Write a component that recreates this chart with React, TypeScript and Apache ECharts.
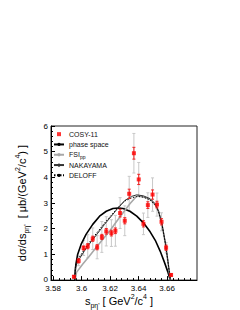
import React, { useEffect, useRef } from "react";
import * as echarts from "echarts";

const FONT = "'Liberation Sans', Arial, Helvetica, sans-serif";

// Axis ticks
const xTicks = [3.58, 3.6, 3.62, 3.64, 3.66];
const xMinorTicks = [3.584, 3.588, 3.592, 3.596, 3.604, 3.608, 3.612, 3.616, 3.624, 3.628, 3.632, 3.636, 3.644, 3.648, 3.652, 3.656, 3.664, 3.668, 3.672, 3.676];
const yTicks = [0, 1, 2, 3, 4, 5, 6];

// COSY-11 data points
const cosyX = [3.5946, 3.5979, 3.6014, 3.6043, 3.6078, 3.6109, 3.6142, 3.6173, 3.6209, 3.6237, 3.627, 3.6303, 3.6334, 3.6367, 3.6401, 3.6434, 3.6465, 3.6498, 3.6529, 3.6561, 3.6593, 3.6628];
const cosyY = [0.13, 0.75, 1.25, 1.32, 1.61, 1.28, 1.68, 1.9, 1.83, 1.92, 2.61, 2.31, 3.36, 4.94, 3.92, 2.19, 2.92, 3.33, 2.94, 2.27, 1.26, 0.2];
const cosyStat = [0.04, 0.08, 0.08, 0.1, 0.1, 0.1, 0.1, 0.11, 0.11, 0.11, 0.15, 0.12, 0.18, 0.23, 0.2, 0.12, 0.13, 0.18, 0.13, 0.12, 0.1, 0.04];
const cosySys = [0.06, 0.19, 0.29, 0.45, 0.42, 0.45, 0.6, 0.57, 0.52, 0.6, 0.6, 0.58, 0.68, 0.77, 0.66, 0.42, 0.48, 0.65, 0.45, 0.35, 0.2, 0.06];

// phase space
const psX = [3.5953, 3.5955, 3.596, 3.5972, 3.5996, 3.6031, 3.6078, 3.6126, 3.6173, 3.622, 3.6256, 3.6291, 3.6339, 3.6387, 3.6434, 3.6481, 3.6517, 3.6552, 3.6581, 3.6604, 3.6618, 3.6622];
const psY = [0, 0.35, 0.62, 1.0, 1.39, 1.78, 2.17, 2.49, 2.68, 2.79, 2.81, 2.79, 2.68, 2.49, 2.23, 1.88, 1.55, 1.12, 0.7, 0.34, 0.08, 0];

// FSI pp
const fsiX = [3.5955, 3.5964, 3.6007, 3.6055, 3.6102, 3.6149, 3.6197, 3.6244, 3.6291, 3.6339, 3.6375, 3.6398, 3.6446, 3.6481, 3.6517, 3.654, 3.6564, 3.6588, 3.6604, 3.6616, 3.6623];
const fsiY = [0, 0.3, 0.62, 0.94, 1.27, 1.59, 1.91, 2.27, 2.62, 2.97, 3.2, 3.29, 3.22, 3.14, 2.93, 2.66, 2.16, 1.42, 0.78, 0.3, 0];

// NAKAYAMA
const nakX = [3.5953, 3.5957, 3.5972, 3.6019, 3.6067, 3.6114, 3.6161, 3.6209, 3.6256, 3.6303, 3.6351, 3.6387, 3.6434, 3.6481, 3.6517, 3.654, 3.6564, 3.6588, 3.6604, 3.6616, 3.6623];
const nakY = [0, 0.49, 0.72, 1.13, 1.5, 1.83, 2.17, 2.49, 2.81, 3.1, 3.26, 3.32, 3.28, 3.17, 2.97, 2.7, 2.2, 1.45, 0.82, 0.3, 0];

// DELOFF
const delX = [3.5953, 3.5957, 3.5972, 3.6019, 3.6067, 3.6114, 3.6161, 3.6209, 3.6256, 3.6303, 3.6351, 3.6387, 3.6434, 3.6481, 3.6517, 3.654, 3.6564, 3.6588, 3.6604, 3.6616, 3.6623];
const delY = [0, 0.55, 0.78, 1.19, 1.56, 1.89, 2.22, 2.53, 2.83, 3.08, 3.2, 3.26, 3.23, 3.12, 2.92, 2.66, 2.17, 1.43, 0.8, 0.3, 0];

const pair = (xs: number[], ys: number[]) => xs.map((x, i) => [x, ys[i]]);

const errSeries = (name: string, err: number[], color: string, cap: number, z: number) => ({
  type: "custom",
  name,
  silent: true,
  z,
  clip: true,
  data: cosyX.map((x, i) => [x, cosyY[i], err[i]]),
  encode: { x: 0, y: 1 },
  renderItem: (params: any, api: any) => {
    const x = api.value(0);
    const y = api.value(1);
    const e = api.value(2);
    const top = api.coord([x, y + e]);
    const bot = api.coord([x, Math.max(0, y - e)]);
    const style = { stroke: color, lineWidth: 1, fill: "none" };
    return {
      type: "group",
      children: [
        { type: "line", shape: { x1: top[0], y1: top[1], x2: bot[0], y2: bot[1] }, style },
        { type: "line", shape: { x1: top[0] - cap, y1: top[1], x2: top[0] + cap, y2: top[1] }, style },
        { type: "line", shape: { x1: bot[0] - cap, y1: bot[1], x2: bot[0] + cap, y2: bot[1] }, style },
      ],
    };
  },
});

export default function App() {
  const ref = useRef<HTMLDivElement>(null);
  useEffect(() => {
    document.body.style.margin = "0";
    const chart = echarts.init(ref.current!, null, { renderer: "svg" });
    const XMIN = 3.5785;
    const XMAX = 3.681;
    const option: any = {
      animation: false,
      backgroundColor: "#fff",
      textStyle: { fontFamily: FONT },
      grid: {
        left: 51,
        right: 43,
        top: 126,
        bottom: 29,
        show: true,
        borderColor: "#222",
        borderWidth: 1,
        backgroundColor: "transparent",
      },
      legend: {
        orient: "vertical",
        left: 53,
        top: 129,
        itemWidth: 10,
        itemHeight: 4,
        itemGap: 0,
        padding: 0,
        selectedMode: false,
        data: [
          { name: "COSY-11", icon: "path://M0,0h1v1h-1z" },
          { name: "phase space" },
          { name: "FSIpp" },
          { name: "NAKAYAMA" },
          { name: "DELOFF" },
        ],
        formatter: (n: string) => (n === "FSIpp" ? "FSI{sub|pp}" : n),
        textStyle: {
          fontFamily: FONT,
          fontSize: 7,
          lineHeight: 10.3,
          color: "#111",
          rich: {
            sub: { fontFamily: FONT, fontSize: 5, lineHeight: 10.3, verticalAlign: "bottom", color: "#111" },
          },
        },
      },
      xAxis: [
        {
          type: "value",
          min: XMIN,
          max: XMAX,
          name: "s{sub|pη'} [ GeV{sup|2}/c{sup|4} ]",
          nameLocation: "middle",
          nameGap: 12,
          nameTextStyle: {
            fontFamily: FONT,
            fontSize: 11,
            color: "#000",
            lineHeight: 16,
            padding: [0, 10, 0, 0],
            rich: {
              sub: { fontFamily: FONT, fontSize: 7, lineHeight: 16, verticalAlign: "bottom", color: "#000" },
              sup: { fontFamily: FONT, fontSize: 7, lineHeight: 16, verticalAlign: "top", color: "#000" },
            },
          },
          axisLine: { show: true, onZero: false, lineStyle: { color: "#000", width: 1 } },
          axisTick: { show: true, inside: true, length: 4, customValues: xTicks, lineStyle: { color: "#000" } },
          axisLabel: { customValues: xTicks, fontSize: 8, lineHeight: 8, margin: 4, color: "#000", fontFamily: FONT },
          splitLine: { show: false },
        },
        {
          type: "value",
          min: XMIN,
          max: XMAX,
          position: "bottom",
          axisLine: { show: false },
          axisTick: { show: true, inside: true, length: 2, customValues: xMinorTicks, lineStyle: { color: "#000" } },
          axisLabel: { show: false },
          splitLine: { show: false },
        },
      ],
      yAxis: {
        type: "value",
        min: 0,
        max: 6,
        interval: 1,
        name: "dσ/ds{sub|pη'}  [ μb/(GeV{sup|2}/c{sup|4}) ]",
        nameLocation: "middle",
        nameGap: 21,
        nameTextStyle: {
          fontFamily: FONT,
          fontSize: 11,
          color: "#000",
          lineHeight: 16,
          rich: {
            sub: { fontFamily: FONT, fontSize: 7, lineHeight: 16, verticalAlign: "bottom", color: "#000" },
            sup: { fontFamily: FONT, fontSize: 7, lineHeight: 16, verticalAlign: "top", color: "#000" },
          },
        },
        axisLine: { show: true, lineStyle: { color: "#000", width: 1 } },
        axisTick: { show: true, inside: true, length: 4, lineStyle: { color: "#000" } },
        minorTick: { show: true, splitNumber: 5, length: 2, lineStyle: { color: "#000" } },
        axisLabel: {
          fontSize: 8,
          lineHeight: 8,
          margin: 3,
          color: "#000",
          fontFamily: FONT,
          formatter: (v: number) => (v === 0 ? "{b|0}" : yTicks.includes(v) ? String(v) : ""),
          rich: {
            b: { fontSize: 8, lineHeight: 8, fontFamily: FONT, color: "#000", padding: [0, 0, 2, 0] },
          },
        },
        splitLine: { show: false },
      },
      series: [
        errSeries("sys", cosySys, "#c8c8c8", 1.5, 1),
        {
          type: "line",
          name: "phase space",
          data: pair(psX, psY),
          symbol: "none",
          z: 3,
          lineStyle: { color: "#000", width: 1.6 },
          itemStyle: { color: "#000" },
        },
        {
          type: "line",
          name: "FSIpp",
          data: pair(fsiX, fsiY),
          symbol: "none",
          z: 3,
          lineStyle: { color: "#a8a8a8", width: 1.6 },
          itemStyle: { color: "#a8a8a8" },
        },
        {
          type: "line",
          name: "NAKAYAMA",
          data: pair(nakX, nakY),
          symbol: "none",
          z: 3,
          lineStyle: { color: "#333", width: 1 },
          itemStyle: { color: "#333" },
        },
        {
          type: "line",
          name: "DELOFF",
          data: pair(delX, delY),
          symbol: "none",
          z: 3,
          lineStyle: { color: "#000", width: 1, type: [1.5, 1.5] },
          itemStyle: { color: "#000" },
        },
        errSeries("stat", cosyStat, "#ee2222", 1.5, 4),
        {
          type: "scatter",
          name: "COSY-11",
          data: pair(cosyX, cosyY),
          symbol: "rect",
          symbolSize: 4,
          z: 5,
          itemStyle: { color: "#ff0000" },
        },
      ],
    };
    chart.setOption(option);
    return () => chart.dispose();
  }, []);
  return (
    <div
      ref={ref}
      style={{ width: 240, height: 310, position: "absolute", left: 0, top: 0, background: "#fff" }}
    />
  );
}
